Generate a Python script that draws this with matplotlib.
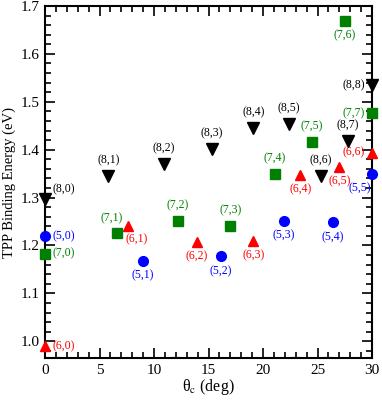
import numpy as np
import matplotlib.pyplot as plt
from matplotlib.ticker import MultipleLocator

plt.rcParams['font.family'] = 'Liberation Serif'
plt.rcParams['mathtext.fontset'] = 'stix'

# chiral angle (deg) and TPP binding energy (eV) for each (n,m) tube
theta_5 = [0.0, 9.0, 16.1, 21.9, 26.4, 30.0]
e_5 = [1.219, 1.167, 1.177, 1.252, 1.248, 1.349]
lab_5 = ["(5,0)", "(5,1)", "(5,2)", "(5,3)", "(5,4)", "(5,5)"]

theta_6 = [0.0, 7.6, 13.9, 19.1, 23.4, 27.0, 30.0]
e_6 = [0.990, 1.240, 1.208, 1.210, 1.348, 1.363, 1.394]
lab_6 = ["(6,0)", "(6,1)", "(6,2)", "(6,3)", "(6,4)", "(6,5)", "(6,6)"]

theta_7 = [0.0, 6.6, 12.2, 17.0, 21.05, 24.5, 27.5, 30.0]
e_7 = [1.183, 1.227, 1.252, 1.240, 1.349, 1.417, 1.669, 1.477]
lab_7 = ["(7,0)", "(7,1)", "(7,2)", "(7,3)", "(7,4)", "(7,5)", "(7,6)", "(7,7)"]

theta_8 = [0.0, 5.8, 10.9, 15.3, 19.1, 22.4, 25.3, 27.8, 30.0]
e_8 = [1.298, 1.345, 1.371, 1.401, 1.446, 1.454, 1.344, 1.419, 1.535]
lab_8 = ["(8,0)", "(8,1)", "(8,2)", "(8,3)", "(8,4)", "(8,5)", "(8,6)", "(8,7)", "(8,8)"]

# where each label sits relative to its marker
pos_5 = ["r", "b", "b", "b", "b", "bl"]
pos_6 = ["r", "br", "b", "b", "b", "b", "l"]
pos_7 = ["r", "al", "a", "a", "a", "a", "b", "l"]
pos_8 = ["ar", "a", "a", "a", "a", "a", "a", "a", "l"]

offs = {
    "a": ((0, 7), "center", "bottom"),
    "al": ((-4, 6), "center", "bottom"),
    "ar": ((5, 2), "left", "bottom"),
    "b": ((0, -6), "center", "top"),
    "br": ((6, -5), "center", "top"),
    "bl": ((-9, -6), "center", "top"),
    "l": ((-5, 0), "right", "center"),
    "r": ((5, 0), "left", "center"),
}

fig = plt.figure(figsize=(3.82, 4.0), dpi=100)
ax = fig.add_axes([0.118, 0.105, 0.856, 0.88])

series = [
    (theta_5, e_5, lab_5, pos_5, "o", "#0000ff", 7),
    (theta_6, e_6, lab_6, pos_6, "^", "#ff0000", 7.5),
    (theta_7, e_7, lab_7, pos_7, "s", "#008000", 6.5),
    (theta_8, e_8, lab_8, pos_8, "v", "#000000", 8),
]

for th, en, labs, pos, mk, col, ms in series:
    ax.plot(th, en, ls="none", marker=mk, color=col, ms=ms, clip_on=False, zorder=3)
    for x, y, s, p in zip(th, en, labs, pos):
        (dx, dy), ha, va = offs[p]
        ax.annotate(s, (x, y), xytext=(dx, dy), textcoords="offset points",
                    ha=ha, va=va, color=col, fontsize=8.5)

ax.set_xlim(0, 30)
ax.set_ylim(0.965, 1.7)
ax.xaxis.set_major_locator(MultipleLocator(5))
ax.xaxis.set_minor_locator(MultipleLocator(1))
ax.yaxis.set_major_locator(MultipleLocator(0.1))
ax.yaxis.set_minor_locator(MultipleLocator(0.02))
ax.tick_params(which="both", direction="in", top=True, right=True, width=1.2)
ax.tick_params(which="major", length=7, labelsize=11, pad=4)
ax.tick_params(which="minor", length=4)
for sp in ax.spines.values():
    sp.set_linewidth(1.5)

ax.set_xlabel(r"θ$_{\rm c}$ (deg)", fontsize=11.5, labelpad=0)
ax.set_ylabel("TPP Binding Energy (eV)", fontsize=10.5, labelpad=3)

fig.savefig("out.png", dpi=100)
